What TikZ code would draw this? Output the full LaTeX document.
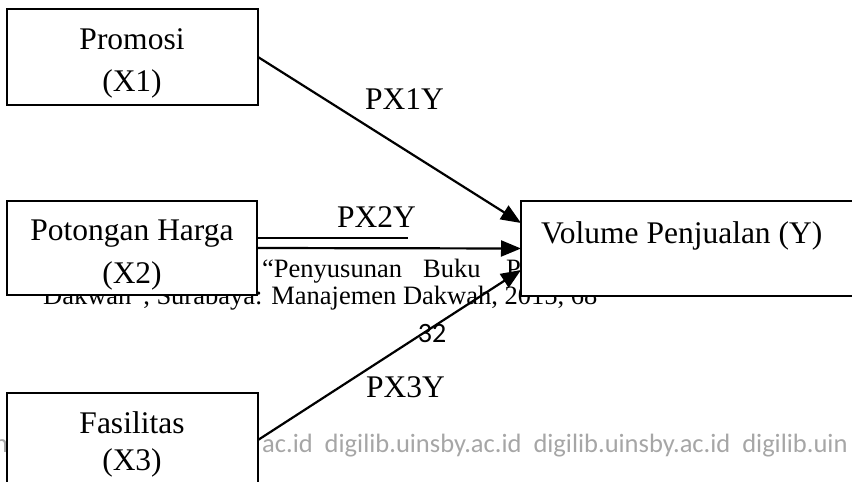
\documentclass[tikz,border=0pt]{standalone}
\usepackage{fontspec}
\setmainfont{Liberation Serif}
\newfontfamily\wmfont{Carlito}
\usetikzlibrary{arrows.meta,calc}
\definecolor{wmgray}{HTML}{A6A6A6}
\begin{document}
\begin{tikzpicture}[x=1pt,y=-1pt,
  box/.style={draw, line width=2pt, fill=white, inner sep=0pt, outer sep=0pt},
  lbl/.style={font=\fontsize{31.5}{36}\selectfont, inner sep=0pt, anchor=base},
  lblw/.style={font=\fontsize{31.5}{36}\selectfont, inner sep=0pt, anchor=base west},
  note/.style={font=\fontsize{26.5}{30}\selectfont, inner sep=0pt, anchor=base west},
  conn/.style={line width=2.2pt, -{Triangle[length=20pt,width=16pt]}},
  wm/.style={font=\wmfont\fontsize{26.5}{30}\selectfont, text=wmgray, inner sep=0pt, anchor=base west}]
\useasboundingbox (0,0) rectangle (852,482);
\clip (0,0) rectangle (852,482);

% watermark and footnote text, partly covered by the boxes
\node[wm] (wmA) at (-6,452) {n};
\node[wm] (wmB) at (262,452) {ac.id\ \ digilib.uinsby.ac.id\ \ digilib.uinsby.ac.id\ \ digilib.uin};
\node[note] (fnA) at (262,277) {``Penyusunan};
\node[note] (fnB) at (423,277) {Buku};
\node[note] (fnC) at (506,277) {Pe};
\node[note] (fnD) at (43,304) {Dakwah'', Surabaya: Manajemen Dakwah, 2015, 68};
\node[font=\wmfont\fontsize{28}{32}\selectfont, inner sep=0pt, anchor=base] (pg) at (432,342) {32};

% variable boxes
\node[box, minimum width=251pt, minimum height=96pt] (x1) at (132.5,57) {};
\node[box, minimum width=250pt, minimum height=94pt] (x2) at (132,248) {};
\node[box, minimum width=251pt, minimum height=94pt] (x3) at (132.5,440) {};
\node[box, minimum width=380pt, minimum height=95pt] (y) at (711,248.5) {};

% box texts
\node[lbl] (x1a) at (132,49) {Promosi};
\node[lbl] (x1b) at (132,91) {(X1)};
\node[lbl] (x2a) at (132,240) {Potongan Harga};
\node[lbl] (x2b) at (132,283) {(X2)};
\node[lbl] (x3a) at (132,433) {Fasilitas};
\node[lbl] (x3b) at (132,470) {(X3)};
\node[lblw] (ya) at (541,243) {Volume Penjualan (Y)};

% path coefficients
\node[lblw] (p1) at (365,109) {PX1Y};
\node[lblw] (p2) at (337,227) {PX2Y};
\node[lblw] (p3) at (366,397) {PX3Y};

% connectors
\coordinate (ulend) at (408,238);
\draw[line width=2pt] ($(x2.east)+(0,-10)$) -- (ulend);
\draw[conn] (x1.east) -- ($(y.west)+(0,-25.5)$);
\draw[conn] (x2.east) -- (y.west);
\draw[conn] (x3.east) -- ($(y.west)+(0,21.5)$);
\end{tikzpicture}
\end{document}
